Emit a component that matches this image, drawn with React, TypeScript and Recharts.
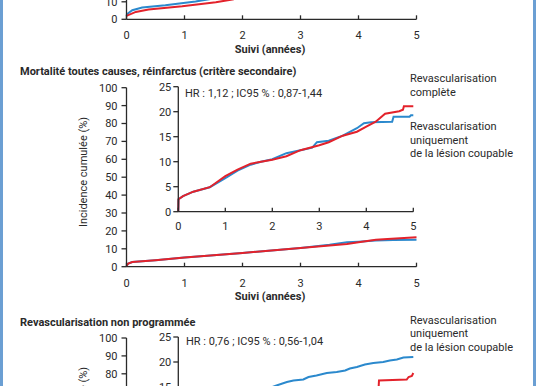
import React from "react";
import { Line, LineChart, XAxis, YAxis } from "recharts";

// Canvas: the figure is a crop of a taller page, so every chart is drawn on a
// taller surface shifted up by SHIFT and the outer box clips what is off-page.
const W = 536;
const H = 386;
const SHIFT = 200;
const CANVAS_H = 800;

const FONT = "Roboto, 'DejaVu Sans', sans-serif";
const INK = "#2a2a2a";
const RED = "#e3222b";
const BLUE = "#2b89cd";
const FRAME = "#6b9fd3";

const YEARS = [0, 1, 2, 3, 4, 5];
const MAIN_TICKS = [0, 10, 20, 30, 40, 50, 60, 70, 80, 90, 100];
const INSET_TICKS = [0, 5, 10, 15, 20, 25];
// only the ticks that land on the page for the cropped panels
const TOP_TICKS = [0, 10];
const LOW_MAIN_TICKS = [80, 90, 100];
const LOW_INSET_TICKS = [15, 20, 25];

type Pt = [number, number]; // [years, cumulative incidence %]

// Tail of the panel above (only the first ~1.5 years are on the page)
const topBlue: Pt[] = [
  [0, 2], [0.01, 3], [0.1, 5.2], [0.27, 6.7], [0.67, 8], [1.19, 10.2], [1.45, 11.6],
];
const topRed: Pt[] = [
  [0, 2], [0.16, 4.2], [0.38, 5.6], [0.96, 7.4], [1.54, 9.8], [1.85, 11.4],
];

// Mortalité toutes causes, réinfarctus — full 0-100 scale
const mortBlue: Pt[] = [
  [0, 0.5], [0.03, 1.8], [0.1, 2.6], [0.5, 3.6], [1, 5.1], [1.5, 6.4], [2, 7.6],
  [2.5, 9.1], [3, 10.5], [3.5, 12.3], [3.8, 13.6], [4, 14], [4.3, 14.6], [4.6, 14.9], [5, 15],
];
const mortRed: Pt[] = [
  [0, 0.5], [0.03, 1.8], [0.1, 2.6], [0.5, 3.6], [1, 5.1], [1.5, 6.4], [2, 7.6],
  [2.5, 9.1], [3, 10.4], [3.5, 11.8], [3.8, 12.7], [4, 13.6], [4.3, 15.1], [4.5, 15.5], [5, 16.4],
];
// same endpoint, zoomed 0-25 inset
const mortInsetBlue: Pt[] = [
  [0, 0], [0.005, 2.5], [0.1, 3.1], [0.32, 4], [0.67, 4.9], [1, 6.7], [1.26, 8.2],
  [1.54, 9.4], [1.76, 10], [2, 10.5], [2.3, 11.7], [2.6, 12.3], [2.85, 12.8], [2.95, 13.9],
  [3.2, 14.2], [3.5, 15.2], [3.8, 16.7], [3.95, 17.7], [4.1, 17.9], [4.55, 18], [4.58, 19],
  [4.92, 19], [4.95, 19.3], [5, 19.3],
];
const mortInsetRed: Pt[] = [
  [0, 0], [0.005, 2.5], [0.1, 3.1], [0.32, 4], [0.67, 4.9], [1, 7.1], [1.26, 8.4],
  [1.54, 9.6], [1.76, 10], [2, 10.4], [2.3, 11.1], [2.6, 12.3], [3, 13.3], [3.2, 13.9],
  [3.5, 15.2], [3.8, 16], [4, 17], [4.2, 18], [4.4, 19.6], [4.7, 20.1], [4.78, 20.4],
  [4.8, 21.1], [5, 21.1],
];

// Revascularisation non programmée — below the page edge on the 0-100 scale
const revascBlue: Pt[] = [
  [0, 0], [0.02, 2.5], [1, 7], [2, 11], [3, 13.5], [4, 15.5], [5, 17],
];
const revascRed: Pt[] = [
  [0, 0], [0.02, 2], [1, 5.5], [2, 8.5], [3, 11], [4, 13], [5, 14.5],
];
// inset, mostly below the page edge
const revascInsetBlue: Pt[] = [
  [0, 0], [0.02, 3], [1, 9], [2, 15], [2.09, 15.3], [2.31, 16], [2.45, 16.3], [2.66, 16.5],
  [2.77, 17], [2.94, 17.3], [3.16, 17.8], [3.37, 18], [3.55, 18.3], [3.65, 18.7], [3.8, 19],
  [3.97, 19.5], [4.15, 19.8], [4.36, 20], [4.5, 20.3], [4.65, 20.5], [4.79, 20.9], [5, 21],
];
const revascInsetRed: Pt[] = [
  [0, 0], [0.02, 2.5], [1, 7], [2, 10], [3, 12.5], [4, 14.2], [4.26, 14.5], [4.27, 16.3],
  [4.86, 16.5], [4.9, 17], [4.97, 17.2], [5, 17.8],
];

const toRows = (pts: Pt[]) => pts.map(([x, y]) => ({ x, y }));

type PlotProps = {
  x0: number; // page px of year 0
  x5: number; // page px of year 5
  yTop: number; // page px of yMax
  yZero: number; // page px of 0
  yMax: number;
  ticks: number[];
  labelGap: number;
  tickMargin: number;
  blue: Pt[];
  red: Pt[];
  xLabels?: boolean;
};

function Plot({ x0, x5, yTop, yZero, yMax, ticks, labelGap, tickMargin, blue, red, xLabels = true }: PlotProps) {
  const AXIS_W = 40;
  const AXIS_H = 30;
  const bottom = yZero + SHIFT;
  const margin = {
    top: yTop + SHIFT,
    left: x0 - AXIS_W,
    right: W - x5,
    bottom: CANVAS_H - bottom - AXIS_H,
  };
  // x ticks point up into the plot, labels sit below the axis
  const XTick = (p: any) => (
    <g>
      <line x1={p.x} x2={p.x} y1={bottom} y2={bottom - 4} stroke={INK} strokeWidth={1.3} />
      <text
        x={p.x}
        y={bottom + labelGap}
        textAnchor="middle"
        dominantBaseline="central"
        fontSize={11}
        fontFamily={FONT}
        fill={INK}
      >
        {p.payload.value}
      </text>
    </g>
  );
  return (
    <div style={{ position: "absolute", left: 0, top: -SHIFT }}>
      <LineChart width={W} height={CANVAS_H} margin={margin}>
        <XAxis
          type="number"
          dataKey="x"
          domain={[0, 5]}
          ticks={YEARS}
          interval={0}
          height={AXIS_H}
          axisLine={{ stroke: INK, strokeWidth: 1.3 }}
          tickLine={false}
          tick={xLabels ? XTick : false}
        />
        <YAxis
          type="number"
          domain={[0, yMax]}
          ticks={ticks}
          interval={0}
          width={AXIS_W}
          tickSize={5}
          tickMargin={tickMargin}
          axisLine={{ stroke: INK, strokeWidth: 1.3 }}
          tickLine={{ stroke: INK, strokeWidth: 1.3 }}
          tick={{ fontSize: 11, fontFamily: FONT, fill: INK }}
        />
        <Line
          data={toRows(blue)}
          dataKey="y"
          type="linear"
          stroke={BLUE}
          strokeWidth={2}
          dot={false}
          isAnimationActive={false}
        />
        <Line
          data={toRows(red)}
          dataKey="y"
          type="linear"
          stroke={RED}
          strokeWidth={2}
          dot={false}
          isAnimationActive={false}
        />
      </LineChart>
    </div>
  );
}

function Label({ x, y, children, bold, center }: { x: number; y: number; children: React.ReactNode; bold?: boolean; center?: boolean }) {
  return (
    <div
      style={{
        position: "absolute",
        left: x,
        top: y - 7,
        height: 14,
        lineHeight: "14px",
        fontSize: 11,
        fontFamily: FONT,
        fontWeight: bold ? 700 : 400,
        color: INK,
        whiteSpace: "nowrap",
        transform: center ? "translateX(-50%)" : undefined,
      }}
    >
      {children}
    </div>
  );
}

function YTitle({ y }: { y: number }) {
  return (
    <div
      style={{
        position: "absolute",
        left: 83,
        top: y,
        fontSize: 11,
        fontFamily: FONT,
        color: INK,
        whiteSpace: "nowrap",
        transform: "translate(-50%, -50%) rotate(-90deg)",
      }}
    >
      Incidence cumulée (%)
    </div>
  );
}

const X0 = 126.5;
const X5 = 416.5;
const IX0 = 178.3;
const IX5 = 413.3;

export default function App() {
  return (
    <div
      style={{
        position: "absolute",
        left: 0,
        top: 0,
        width: W,
        height: H,
        overflow: "hidden",
        background: "#fff",
      }}
    >
      {/* tail of the previous panel */}
      <Plot x0={X0} x5={X5} yTop={-155.7} yZero={19.3} yMax={100} ticks={TOP_TICKS}
        labelGap={16} tickMargin={4} blue={topBlue} red={topRed} />
      <Label x={270} y={49.5} bold center>Suivi (années)</Label>

      {/* Mortalité toutes causes, réinfarctus */}
      <Label x={20} y={72} bold>Mortalité toutes causes, réinfarctus (critère secondaire)</Label>
      <Plot x0={X0} x5={X5} yTop={87.7} yZero={266.7} yMax={100} ticks={MAIN_TICKS}
        labelGap={17} tickMargin={4} blue={mortBlue} red={mortRed} />
      <Plot x0={IX0} x5={IX5} yTop={86.7} yZero={211.7} yMax={25} ticks={INSET_TICKS}
        labelGap={15} tickMargin={2} blue={mortInsetBlue} red={mortInsetRed} />
      <Label x={185} y={93.5}>HR : 1,12 ; IC95 % : 0,87-1,44</Label>
      <Label x={410} y={79}>Revascularisation</Label>
      <Label x={410} y={93}>complète</Label>
      <Label x={410} y={127}>Revascularisation</Label>
      <Label x={410} y={140.5}>uniquement</Label>
      <Label x={410} y={154}>de la lésion coupable</Label>
      <YTitle y={171.7} />
      <Label x={270} y={296.7} bold center>Suivi (années)</Label>

      {/* Revascularisation non programmée */}
      <Label x={20} y={322.5} bold>Revascularisation non programmée</Label>
      <Plot x0={X0} x5={X5} yTop={338} yZero={517} yMax={100} ticks={LOW_MAIN_TICKS}
        labelGap={17} tickMargin={4} blue={revascBlue} red={revascRed} xLabels={false} />
      <Plot x0={IX0} x5={IX5} yTop={337} yZero={462} yMax={25} ticks={LOW_INSET_TICKS}
        labelGap={15} tickMargin={2} blue={revascInsetBlue} red={revascInsetRed} xLabels={false} />
      <Label x={186} y={341.5}>HR : 0,76 ; IC95 % : 0,56-1,04</Label>
      <Label x={410} y={320.5}>Revascularisation</Label>
      <Label x={410} y={334}>uniquement</Label>
      <Label x={410} y={347.5}>de la lésion coupable</Label>
      <YTitle y={421.7} />

      {/* page frame */}
      <div style={{ position: "absolute", left: 0, top: 0, width: 3, height: H, background: FRAME }} />
      <div style={{ position: "absolute", left: 533, top: 0, width: 3, height: H, background: FRAME }} />
    </div>
  );
}
